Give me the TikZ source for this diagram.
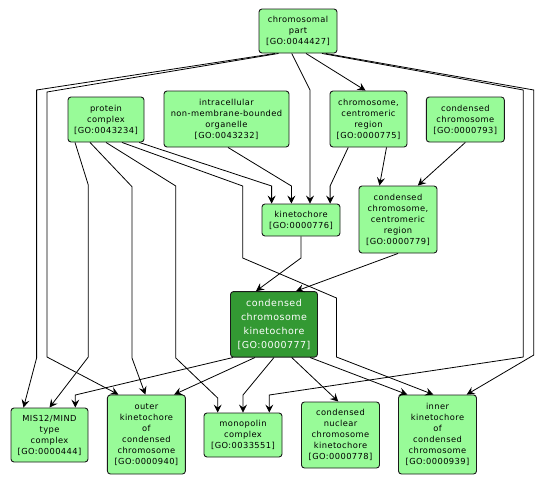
\documentclass[tikz,border=0pt]{standalone}
\usepackage{fontspec}
\newfontfamily\gofont[LetterSpace=5]{DejaVu Sans}
\usepackage{xcolor}
\definecolor{termfill}{HTML}{98FB98}
\definecolor{keyfill}{HTML}{339933}
\definecolor{termline}{HTML}{1A1A1A}
\usetikzlibrary{arrows.meta}

\begin{document}
\begin{tikzpicture}[
    x=1pt, y=-1pt,
    term/.style={rectangle, draw=termline, fill=termfill, line width=0.9pt,
        minimum width=78pt, inner sep=2pt, rounded corners=3pt, align=center,
        font=\gofont\fontsize{8.3}{11}\selectfont},
    termkey/.style={term, fill=keyfill, text=white, minimum width=87pt,
        font=\gofont\fontsize{9.5}{14}\selectfont},
    arr/.style={-{Stealth[length=8pt, width=8pt, inset=3pt]}, line width=0.8pt, black}
]
\useasboundingbox (0,0) rectangle (546,485);

\node[term, minimum height=44pt] (A) at (298,31) {chromosomal\\part\\{[GO:0044427]}};
\node[term, minimum height=45pt, minimum width=76pt] (B) at (106,119.5) {protein\\complex\\{[GO:0043234]}};
\node[term, minimum height=56pt, minimum width=125pt] (C) at (226.5,119) {intracellular\\non-membrane-bounded\\organelle\\{[GO:0043232]}};
\node[term, minimum height=56pt, minimum width=77pt] (D) at (368.5,119) {chromosome,\\centromeric\\region\\{[GO:0000775]}};
\node[term, minimum height=45pt] (E) at (465.3,119.5) {condensed\\chromosome\\{[GO:0000793]}};
\node[term, minimum height=32pt] (F) at (301,220) {kinetochore\\{[GO:0000776]}};
\node[term, minimum height=67pt] (G) at (398,219.5) {condensed\\chromosome,\\centromeric\\region\\{[GO:0000779]}};
\node[termkey, minimum height=65.5pt] (H) at (274,324.3) {condensed\\chromosome\\kinetochore\\{[GO:0000777]}};
\node[term, minimum height=54pt, minimum width=77pt] (I) at (49.5,435) {MIS12/MIND\\type\\complex\\{[GO:0000444]}};
\node[term, minimum height=79pt] (J) at (146.4,434.5) {outer\\kinetochore\\of\\condensed\\chromosome\\{[GO:0000940]}};
\node[term, minimum height=44pt] (K) at (243,435) {monopolin\\complex\\{[GO:0033551]}};
\node[term, minimum height=66pt] (L) at (340.5,435) {condensed\\nuclear\\chromosome\\kinetochore\\{[GO:0000778]}};
\node[term, minimum height=79pt] (M) at (437.5,434.5) {inner\\kinetochore\\of\\condensed\\chromosome\\{[GO:0000939]}};

\draw[arr] ([xshift=-23]A.south) -- (36.6,90) -- (36.6,358) -- ([xshift=-26]I.north);
\draw[arr] ([xshift=-19.5]A.south) -- (47,92) -- (47,357) -- ([xshift=-28]J.north);
\draw[arr] ([xshift=-6.3]A.south) -- (310,90) -- ([xshift=9]F.north);
\draw[arr] ([xshift=8]A.south) -- ([xshift=-3]D.north);
\draw[arr] ([xshift=24]A.south) -- (523.3,90) -- (523.3,357) -- (269.3,395) -- ([xshift=26.3]K.north);
\draw[arr] ([xshift=27.6]A.south) -- (533.8,90) -- (533.8,355) -- ([xshift=29.2]M.north);

\draw[arr] ([xshift=-31]B.south) -- (88.3,185) -- (88.3,357) -- (I.north);
\draw[arr] ([xshift=-16]B.south) -- (132,186.7) -- (132,358) -- ([xshift=-1]J.north);
\draw[arr] (B.south) -- (175.8,186) -- (175.8,358) -- (217.7,398) -- ([xshift=-25.3]K.north);
\draw[arr] ([xshift=16]B.south) -- (242.7,186) -- (242.7,258) -- (336.5,298) -- (336.5,357) -- ([xshift=-4.2]M.north);
\draw[arr] ([xshift=33.3]B.south) -- (271.6,186) -- ([xshift=-29.4]F.north);
\draw[arr] ([xshift=1.5]C.south) -- (291.4,186) -- ([xshift=-9.6]F.north);
\draw[arr] ([xshift=-20.3]D.south) -- (330.1,186) -- ([xshift=29.1]F.north);
\draw[arr] ([xshift=18]D.south) -- ([xshift=-18.5]G.north);
\draw[arr] (E.south) -- ([xshift=19.8]G.north);

\draw[arr] (F.south) -- (301,258) -- ([xshift=-18]H.north);
\draw[arr] (G.south) -- ([xshift=22]H.north);

\draw[arr] ([xshift=-41]H.south) -- (75.3,395) -- ([xshift=25.8]I.north);
\draw[arr] ([xshift=-19]H.south) -- ([xshift=27.7]J.north);
\draw[arr] (H.south) -- (243,395) -- (K.north);
\draw[arr] ([xshift=17.7]H.south) -- ([xshift=-2.2]L.north);
\draw[arr] ([xshift=36]H.south) -- ([xshift=-30.2]M.north);
\end{tikzpicture}
\end{document}
